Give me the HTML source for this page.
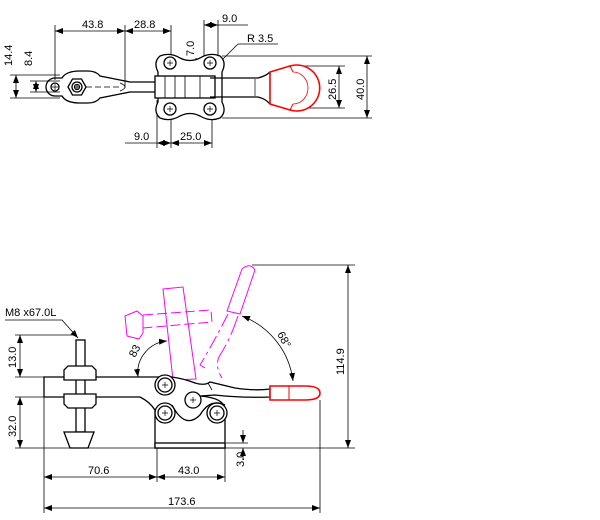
<!DOCTYPE html>
<html><head><meta charset="utf-8"><style>
html,body{margin:0;padding:0;background:#fff;}
svg{display:block;}
text{font-family:"Liberation Sans",sans-serif;font-size:11px;fill:#000;}
</style></head><body>
<svg width="600" height="520" viewBox="0 0 600 520" xmlns="http://www.w3.org/2000/svg">
<defs>
<marker id="a" markerWidth="8" markerHeight="6" refX="8" refY="3" orient="auto-start-reverse" markerUnits="userSpaceOnUse"><path d="M0,0 L8,3 L0,6 z" fill="#000"/></marker>
</defs>
<g stroke="#000" stroke-width="0.8" fill="none">
<line x1="55" y1="25" x2="55" y2="80"/><line x1="125" y1="25" x2="125" y2="88"/><line x1="171" y1="25" x2="171" y2="60"/>
<line x1="55" y1="31" x2="125" y2="31" marker-start="url(#a)" marker-end="url(#a)"/>
<line x1="125" y1="31" x2="171" y2="31" marker-start="url(#a)" marker-end="url(#a)"/>
<line x1="204" y1="20" x2="204" y2="58"/><line x1="218" y1="20" x2="218" y2="58"/>
<line x1="204" y1="25" x2="218" y2="25" marker-start="url(#a)" marker-end="url(#a)"/><line x1="218" y1="25" x2="248" y2="25"/>
<line x1="196" y1="58" x2="196" y2="72" marker-start="url(#a)" marker-end="url(#a)"/>
<line x1="238" y1="44" x2="278" y2="44"/><line x1="238" y1="44" x2="220" y2="62"/>
<line x1="10" y1="75" x2="60" y2="75"/><line x1="10" y1="98" x2="60" y2="98"/>
<line x1="30" y1="81" x2="60" y2="81"/><line x1="30" y1="92" x2="60" y2="92"/>
<line x1="16" y1="75" x2="16" y2="98" marker-start="url(#a)" marker-end="url(#a)"/>
<line x1="36" y1="81" x2="36" y2="92" marker-start="url(#a)" marker-end="url(#a)"/>
<line x1="222" y1="56" x2="372" y2="56"/><line x1="222" y1="118" x2="372" y2="118"/>
<line x1="300" y1="66" x2="345" y2="66"/><line x1="300" y1="108" x2="345" y2="108"/>
<line x1="339" y1="66" x2="339" y2="108" marker-start="url(#a)" marker-end="url(#a)"/>
<line x1="367" y1="56" x2="367" y2="118" marker-start="url(#a)" marker-end="url(#a)"/>
<line x1="157" y1="100" x2="157" y2="148"/><line x1="171" y1="110" x2="171" y2="148"/><line x1="212" y1="110" x2="212" y2="148"/>
<line x1="125" y1="143" x2="157" y2="143"/>
<line x1="157" y1="143" x2="171" y2="143" marker-start="url(#a)" marker-end="url(#a)"/>
<line x1="171" y1="143" x2="212" y2="143" marker-start="url(#a)" marker-end="url(#a)"/>
</g>
<g stroke="#000" stroke-width="1.3" fill="none">
<path d="M62,78 L55,78 A9,9 0 0 0 55,96 L62,96 Q66,103 80,103 L88,103 Q96,103 100,98 L120,94 L130,92 L157,92 L157,82 L130,82 L120,80 L100,76 Q96,71 88,71 L80,71 Q66,71 62,78 Z"/>
<circle cx="55" cy="87" r="4"/>
<polygon points="68,87 72.5,79 81.5,79 86,87 81.5,95 72.5,95"/><circle cx="77" cy="87" r="5"/><circle cx="77" cy="87" r="2.5"/>
<line x1="86" y1="87" x2="122" y2="87" stroke-dasharray="6,3" stroke-width="0.8"/>
<path d="M120,83 Q130,87 120,91" stroke-width="0.8"/>
<path d="M160,56 Q170,52 180,58 Q190,63 200,58 Q210,52 220,56 Q227,62 222,72 L222,102 Q227,112 220,118 Q210,122 200,116 Q190,111 180,116 Q170,122 160,118 Q153,112 158,102 L158,72 Q153,62 160,56 Z" fill="#fff"/>
<circle cx="170" cy="63" r="6"/><circle cx="210" cy="63" r="6"/><circle cx="170" cy="109" r="6"/><circle cx="210" cy="109" r="6"/>
<rect x="155" y="76" width="60" height="22" fill="#fff"/>
<line x1="165" y1="76" x2="165" y2="98" stroke-width="0.8"/><line x1="175" y1="76" x2="175" y2="98" stroke-width="0.8"/><line x1="185" y1="76" x2="185" y2="98" stroke-width="0.8"/><line x1="200" y1="76" x2="200" y2="98" stroke-width="0.8"/>
<path d="M210,78 L258,78 Q266,76 270,72 M210,97 L258,97 Q266,99 270,104"/>
<line x1="255" y1="79" x2="255" y2="96" stroke-width="0.7"/>
</g>
<g stroke="#f00" fill="none">
<path d="M270,72 L290,66 A23,23 0 1 1 290,110 L270,104 Z" stroke-width="1.6" fill="#fff"/>
<path d="M290,66 L293,72 M290,110 L293,104" stroke-width="1"/>
<path d="M293,72 A15,16 0 1 1 293,104" stroke-width="0.8"/>
</g>
<g stroke="#000" stroke-width="0.7">
<path d="M52,87h6M55,84v6M74,87h6M77,84v6M167,63h6M170,60v6M207,63h6M210,60v6M167,109h6M170,106v6M207,109h6M210,106v6"/>
</g>
<text x="82" y="28">43.8</text><text x="134" y="28">28.8</text><text x="222" y="22">9.0</text>
<text x="247" y="42">R  3.5</text>
<text x="134" y="140">9.0</text><text x="180" y="140">25.0</text>
<text transform="translate(194,56) rotate(-90)">7.0</text>
<text transform="translate(12,66) rotate(-90)">14.4</text>
<text transform="translate(32,66) rotate(-90)">8.4</text>
<text transform="translate(336,100) rotate(-90)">26.5</text>
<text transform="translate(364,100) rotate(-90)">40.0</text>

<g stroke="#000" stroke-width="0.8" fill="none">
<line x1="15" y1="448" x2="355" y2="448"/>
<line x1="252" y1="265" x2="355" y2="265"/>
<line x1="348" y1="265" x2="348" y2="448" marker-start="url(#a)" marker-end="url(#a)"/>
<line x1="15" y1="377" x2="45" y2="377"/><line x1="15" y1="397" x2="45" y2="397"/><line x1="15" y1="335" x2="75" y2="335"/>
<line x1="20" y1="335" x2="20" y2="377" marker-start="url(#a)" marker-end="url(#a)"/>
<line x1="20" y1="397" x2="20" y2="448" marker-start="url(#a)" marker-end="url(#a)"/>
<line x1="44" y1="397" x2="44" y2="513"/><line x1="157" y1="448" x2="157" y2="482"/><line x1="225" y1="448" x2="225" y2="482"/><line x1="320" y1="400" x2="320" y2="513"/>
<line x1="44" y1="477" x2="157" y2="477" marker-start="url(#a)" marker-end="url(#a)"/>
<line x1="157" y1="477" x2="225" y2="477" marker-start="url(#a)" marker-end="url(#a)"/>
<line x1="44" y1="508" x2="320" y2="508" marker-start="url(#a)" marker-end="url(#a)"/>
<line x1="226" y1="443" x2="248" y2="443"/>
<line x1="243" y1="430" x2="243" y2="443" marker-end="url(#a)"/><line x1="243" y1="460" x2="243" y2="448" marker-end="url(#a)"/>
<line x1="5" y1="320" x2="62" y2="320"/><line x1="62" y1="320" x2="78" y2="338" marker-end="url(#a)"/>
<path d="M138,377 A32,32 0 0 1 167,341" marker-start="url(#a)" marker-end="url(#a)"/>
<path d="M242,316 A80,80 0 0 1 293,381" marker-start="url(#a)" marker-end="url(#a)"/>
</g>
<text x="5" y="316">M8 x67.0L</text>
<text x="63" y="392">KJF-022-21F</text>
<text x="88" y="474">70.6</text><text x="178" y="474">43.0</text><text x="168" y="505">173.6</text>
<text transform="translate(16,368) rotate(-90)">13.0</text>
<text transform="translate(16,437) rotate(-90)">32.0</text>
<text transform="translate(244,467) rotate(-90)">3.0</text>
<text transform="translate(344,375) rotate(-90)">114.9</text>
<text transform="translate(135,358) rotate(-62)">83</text>
<text transform="translate(277,334) rotate(62)">68°</text>

<g stroke="#f0f" stroke-width="1" fill="none">
<polygon points="163,289 183,287 196,379 173,380"/>
<path d="M143,315 L211,310 L212,322 L143,328" stroke-dasharray="10,4"/>
<polygon points="125,316 137,311 143,316 143,333 139,339 127,336"/>
<path d="M227,311 L242,269 Q250,262 255,270 L240,314 Z"/>
<path d="M228,314 Q215,340 200,365 L205,368" stroke-dasharray="14,4,3,4"/>
<path d="M238,316 Q230,340 220,355 Q214,365 222,378" stroke-dasharray="20,4,3,4"/>
</g>

<g stroke="#000" stroke-width="1.3" fill="#fff">
<path d="M155,448 L155,410 Q150,402 140,397 L44,397 L44,377 L172,377 Q185,379 195,383 Q205,386 210,382 L235,388 Q255,391 270,389 L270,397 Q240,398 215,395 L200,396 Q225,398 225,410 L225,448 Z"/>
<line x1="208" y1="383" x2="212" y2="390" stroke-width="0.8"/>
<rect x="76" y="340" width="9" height="92"/>
<polygon points="64,370 68,366 92,366 96,370 96,380 64,380"/>
<polygon points="64,394 96,394 96,404 92,408 68,408 64,404"/>
<polygon points="64,432 94,432 88,448 70,448"/>
<rect x="155" y="443" width="70" height="5"/>
<circle cx="165" cy="385" r="10" /><circle cx="165" cy="385" r="7"/>
<circle cx="165" cy="413" r="10"/><circle cx="165" cy="413" r="7"/>
<circle cx="217" cy="413" r="10"/><circle cx="217" cy="413" r="7"/>
</g>
<path d="M172,405 Q185,430 200,415 Q210,398 225,405" stroke="#000" stroke-width="1.3" fill="none"/>
<circle cx="193" cy="400" r="8" stroke="#000" stroke-width="1.3" fill="#fff"/>
<g stroke="#000" stroke-width="0.7">
<path d="M162,385h6M165,382v6M162,413h6M165,410v6M190,400h6M193,397v6M214,413h6M217,410v6"/>
</g>
<path d="M270,386 L305,386 Q320,386 320,393 Q320,400 305,400 L270,400 Z" stroke="#f00" stroke-width="1.6" fill="#fff"/>
<line x1="289" y1="386" x2="289" y2="400" stroke="#f00" stroke-width="1"/>
</svg>
</body></html>
